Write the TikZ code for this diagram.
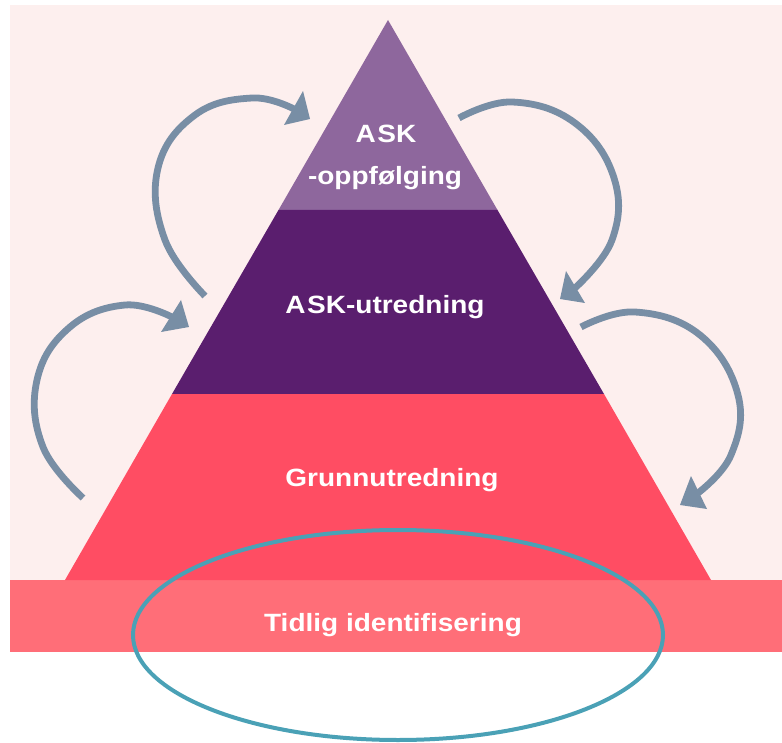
\documentclass[tikz,border=0pt]{standalone}
\usepackage{fontspec}
\setmainfont{Liberation Sans}[FakeStretch=1.12]
\usetikzlibrary{shapes.geometric}
\begin{document}
\begin{tikzpicture}[x=1pt,y=-1pt,
  lbl/.style={text=white,font=\bfseries\fontsize{25}{30}\selectfont,anchor=base,inner sep=0pt},
  shaft/.style={draw=arrowc,line width=6.8pt,line cap=butt},
  head/.style={fill=arrowc}]
\definecolor{bgpink}{HTML}{FDEFEE}
\definecolor{lpurple}{HTML}{8E679D}
\definecolor{dpurple}{HTML}{5A1E6E}
\definecolor{redc}{HTML}{FF4D63}
\definecolor{bandc}{HTML}{FF6E78}
\definecolor{arrowc}{HTML}{788EA5}
\definecolor{ellc}{HTML}{4AA1B6}
\useasboundingbox (0,0) rectangle (782,743);
\fill[white] (0,0) rectangle (782,743);
% background
\fill[bgpink] (10,5) rectangle (782,580);
\fill[bandc] (10,580) rectangle (782,652);
% pyramid layers
\fill[lpurple] (388,20) -- (497.5,210) -- (278.5,210) -- cycle;
\fill[dpurple] (278.5,210) -- (497.5,210) -- (604,394) -- (172,394) -- cycle;
\fill[redc] (172,394) -- (604,394) -- (711,580) -- (65,580) -- cycle;
% labels
\node[lbl] (ask) at (386,143) {A\kern1.5pt SK};
\node[lbl] (oppf) at (385,185) {-oppfølging};
\node[lbl] (utr) at (385,314) {A\kern1.5pt SK-utredning};
\node[lbl] (grunn) at (392,486) {Grunnutredning};
\node[lbl] (tidlig) at (393,631) {Tidlig identifisering};
% arrow 1 (top left)
\draw[shaft] plot[smooth,tension=0.7] coordinates {(205,296) (165,240) (158,168) (195,115) (252,98) (294,109)};
\fill[head] (303,91) -- (284,125) -- (310,119) -- cycle;
% arrow 2 (top right)
\draw[shaft] plot[smooth,tension=0.7] coordinates {(459,118) (512,102) (575,123) (614,178) (612,240) (575,288)};
\fill[head] (566,271) -- (585,303) -- (560,299) -- cycle;
% arrow 3 (middle left)
\draw[shaft] plot[smooth,tension=0.7] coordinates {(83,498) (43,447) (37,380) (70,327) (125,305) (172,317)};
\fill[head] (181,300) -- (161,332) -- (189,327) -- cycle;
% arrow 4 (middle right)
\draw[shaft] plot[smooth,tension=0.7] coordinates {(581,327) (635,312) (700,335) (738,395) (731,455) (698,493)};
\fill[head] (691,476) -- (707,509) -- (680,505) -- cycle;
% ellipse
\node[draw=ellc,line width=4pt,ellipse,inner sep=0pt,outer sep=0pt,minimum width=530pt,minimum height=210pt] (ell) at (398,635) {};
\end{tikzpicture}
\end{document}
